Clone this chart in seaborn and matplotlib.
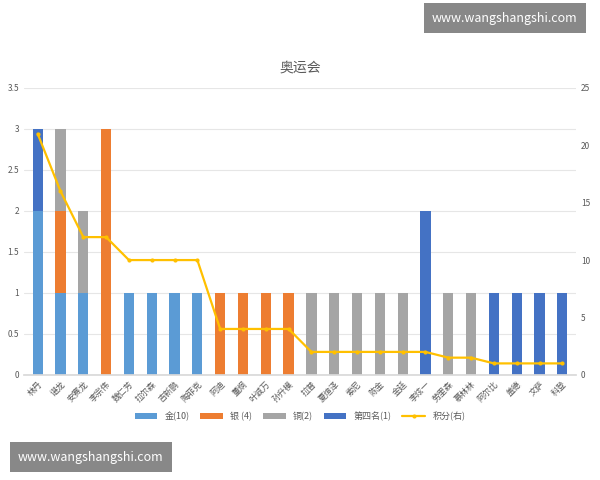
import matplotlib.pyplot as plt
import numpy as np
import seaborn as sns

names = ['林丹', '谌龙', '安赛龙', '李宗伟', '魏仁芳', '拉尔森', '吉新鹏', '陶菲克',
         '阿迪', '董炯', '叶诚万', '孙升模', '拉普', '夏煊泽', '索尼', '陈金', '金廷',
         '李炫一', '劳里森', '慕林林', '阿尔比', '盖德', '文萨', '科登']
gold = [2, 1, 1, 0, 1, 1, 1, 1, 0, 0, 0, 0, 0, 0, 0, 0, 0, 0, 0, 0, 0, 0, 0, 0]
silver = [0, 1, 0, 3, 0, 0, 0, 0, 1, 1, 1, 1, 0, 0, 0, 0, 0, 0, 0, 0, 0, 0, 0, 0]
bronze = [0, 1, 1, 0, 0, 0, 0, 0, 0, 0, 0, 0, 1, 1, 1, 1, 1, 0, 1, 1, 0, 0, 0, 0]
fourth = [1, 0, 0, 0, 0, 0, 0, 0, 0, 0, 0, 0, 0, 0, 0, 0, 0, 2, 0, 0, 1, 1, 1, 1]
score = [21, 16, 12, 12, 10, 10, 10, 10, 4, 4, 4, 4, 2, 2, 2, 2, 2, 2, 1.5, 1.5, 1, 1, 1, 1]

sns.set_theme(style='white')
plt.rcParams['font.family'] = ['Noto Sans CJK SC', 'DejaVu Sans']

fig, ax = plt.subplots(figsize=(6, 4.8), dpi=100)
x = np.arange(len(names))
w = 0.45
series = [('金(10)', gold, '#5B9BD5'), ('银 (4)', silver, '#ED7D31'),
          ('铜(2)', bronze, '#A5A5A5'), ('第四名(1)', fourth, '#4472C4')]
bottom = np.zeros(len(names))
for label, vals, c in series:
    ax.bar(x, vals, w, bottom=bottom, color=c, label=label, linewidth=0)
    bottom += np.array(vals)

ax.set_ylim(0, 3.5)
ax.set_yticks(np.arange(0, 3.51, 0.5))
ax.set_yticklabels(['0', '0.5', '1', '1.5', '2', '2.5', '3', '3.5'])
ax.set_xlim(-0.6, len(names) - 0.4)
ax.set_xticks(x)
ax.set_xticklabels(names, rotation=45, ha='right', rotation_mode='anchor')
ax.tick_params(labelsize=6, colors='#595959', length=0)
ax.yaxis.grid(True, color='#E6E6E6', lw=0.8)
ax.set_axisbelow(True)
for s in ax.spines.values():
    s.set_visible(False)
ax.spines['bottom'].set_visible(True)
ax.spines['bottom'].set_color('#D9D9D9')

ax2 = ax.twinx()
sns.lineplot(x=x, y=score, ax=ax2, color='#FFC000', marker='o', markersize=3,
             markeredgewidth=0, lw=1.6, label='积分(右)', legend=False)
ax2.set_ylim(0, 25)
ax2.set_yticks(range(0, 26, 5))
ax2.tick_params(labelsize=6, colors='#595959', length=0)
for s in ax2.spines.values():
    s.set_visible(False)

ax.set_title('奥运会', fontsize=10, color='#595959', pad=12)
h1, l1 = ax.get_legend_handles_labels()
h2, l2 = ax2.get_legend_handles_labels()
ax.legend(h1 + h2, l1 + l2, loc='upper center', bbox_to_anchor=(0.5, -0.1),
          ncol=5, frameon=False, fontsize=6.5, handlelength=2.5, handleheight=0.5,
          columnspacing=1.2, labelcolor='#595959')

fig.subplots_adjust(left=0.04, right=0.96, top=0.817, bottom=0.219)
fig.text(0.72, 0.955, 'www.wangshangshi.com', fontsize=9, color='white',
         bbox=dict(facecolor='#888888', edgecolor='none', pad=6))
fig.text(0.03, 0.04, 'www.wangshangshi.com', fontsize=9, color='white',
         bbox=dict(facecolor='#888888', edgecolor='none', pad=6))
fig.savefig('out.png', dpi=100)
